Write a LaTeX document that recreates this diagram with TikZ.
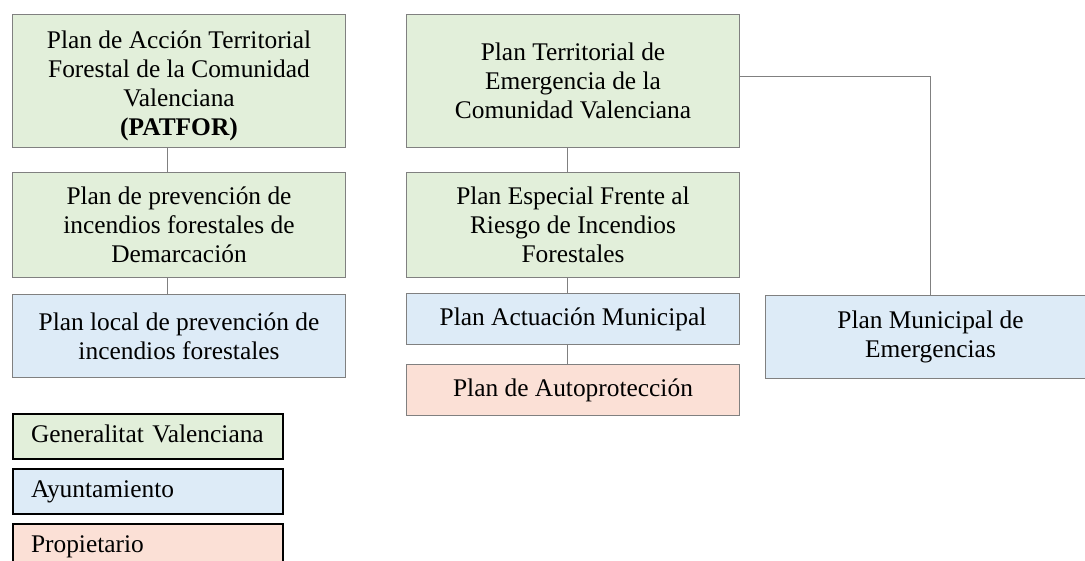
\documentclass[tikz,border=0pt]{standalone}
\usepackage{fontspec}
\setmainfont{Liberation Serif}
\usepackage{xcolor}
\usepackage{tikz}
\usetikzlibrary{positioning}

\definecolor{gvgreen}{HTML}{E2EFDA}
\definecolor{ayblue}{HTML}{DDEBF7}
\definecolor{proppink}{HTML}{FBE0D6}

\begin{document}
\begin{tikzpicture}[
    box/.style={rectangle, draw=black!50, line width=0.5pt, align=center, inner sep=2pt, minimum width=166.5pt},
    legend/.style={rectangle, draw=black, line width=1pt, align=left, anchor=north west, inner sep=0pt, text width=135pt, minimum height=22.5pt, text depth=3pt, text height=9pt},
    link/.style={draw=black!50, line width=0.5pt},
    every node/.style={font=\fontsize{12.7}{14.5}\selectfont}
]
\useasboundingbox (0,0) rectangle (542.5pt,-280.5pt);

% Generalitat plans, forest column
\node[box, fill=gvgreen, minimum height=66.5pt, anchor=north west] (patfor) at (6pt,-7pt) {\rule{0pt}{14pt}Plan de Acción Territorial \\ Forestal de la Comunidad \\ Valenciana \\ \textbf{(PATFOR)}};
\node[box, fill=gvgreen, minimum height=52.5pt, below=12pt of patfor] (demarc) {Plan de prevención de \\ incendios forestales de \\ Demarcación};
\node[box, fill=ayblue, minimum height=41.5pt, below=8pt of demarc] (local) {Plan local de prevención de \\ incendios forestales};

% emergency column
\node[box, fill=gvgreen, minimum height=66.5pt, anchor=north west] (ptecv) at (203pt,-7pt) {Plan Territorial de \\ Emergencia de la \\ Comunidad Valenciana};
\node[box, fill=gvgreen, minimum height=52.5pt, below=12pt of ptecv] (pefr) {Plan Especial Frente al \\ Riesgo de Incendios \\ Forestales};
\node[box, fill=ayblue, minimum height=25.5pt, below=7.5pt of pefr] (pam) {Plan Actuación Municipal};
\node[box, fill=proppink, minimum height=25.5pt, below=9.5pt of pam] (pauto) {Plan de Autoprotección};
\node[box, fill=ayblue, minimum height=41.5pt, minimum width=165pt, right=12.5pt of pam.north east, anchor=north west, yshift=-1pt] (pme) {Plan Municipal de \\ Emergencias};

% Connectors
\draw[link] ([xshift=-6pt]patfor.south) -- ([xshift=-6pt]demarc.north);
\draw[link] ([xshift=-6pt]demarc.south) -- ([xshift=-6pt]local.north);
\draw[link] ([xshift=-3pt]ptecv.south) -- ([xshift=-3pt]pefr.north);
\draw[link] ([xshift=-3pt]pefr.south) -- ([xshift=-3pt]pam.north);
\draw[link] ([xshift=-3pt]pam.south) -- ([xshift=-3pt]pauto.north);
\draw[link] ([yshift=2pt]ptecv.east) -| (pme.north);

% Legend
\node[legend, fill=gvgreen, below=17.5pt of local.south west, anchor=north west] (leggv) {\hspace*{9pt}Generalitat Valenciana};
\node[legend, fill=ayblue, below=4pt of leggv.south west, anchor=north west] (legay) {\hspace*{9pt}Ayuntamiento};
\node[legend, fill=proppink, below=4pt of legay.south west, anchor=north west] (legprop) {\hspace*{9pt}Propietario};
\end{tikzpicture}
\end{document}
